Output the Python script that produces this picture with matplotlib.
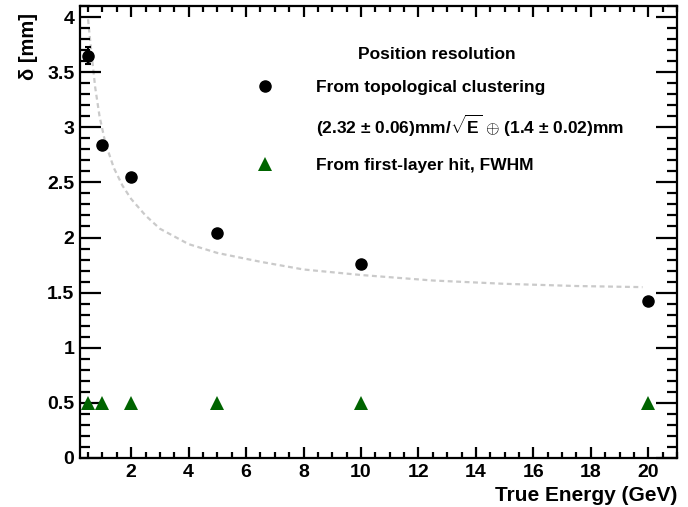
import matplotlib

matplotlib.use("Agg")
import matplotlib.pyplot as plt
from matplotlib.lines import Line2D
from matplotlib.ticker import MultipleLocator, FormatStrFormatter

plt.rcParams["font.family"] = ["Liberation Sans", "DejaVu Sans"]
plt.rcParams["font.weight"] = "bold"
plt.rcParams["mathtext.fontset"] = "custom"
plt.rcParams["mathtext.rm"] = "Liberation Sans:bold"
plt.rcParams["mathtext.bf"] = "Liberation Sans:bold"

# Position resolution from topological clustering
energy = [0.5, 1, 2, 5, 10, 20]
resolution = [3.65, 2.84, 2.55, 2.04, 1.76, 1.42]
resolution_err = [0.08, 0.02, 0.02, 0.02, 0.02, 0.02]

# First-layer hit, FWHM
hit_energy = [0.5, 1, 2, 5, 10, 20]
hit_resolution = [0.5, 0.5, 0.5, 0.5, 0.5, 0.5]

# Fit curve
fit_x = [0.5, 0.6, 0.75, 0.9, 1.1, 1.4, 1.7, 2.0, 2.5, 3.0, 4.0, 5.0,
         6.5, 8.0, 10.0, 12.5, 15.0, 17.5, 19.8]
fit_y = [3.98, 3.72, 3.36, 3.10, 2.86, 2.63, 2.47, 2.35, 2.20, 2.08, 1.94,
         1.86, 1.78, 1.71, 1.66, 1.61, 1.58, 1.56, 1.55]

fig = plt.figure(figsize=(6.88, 5.07), dpi=100)
ax = fig.add_axes([80 / 688, 1 - 458 / 507, 597 / 688, 452 / 507])

ax.plot(fit_x, fit_y, color="#cacaca", lw=1.6, ls=(0, (2.2, 1.6)), zorder=1)
ax.errorbar(energy, resolution, yerr=resolution_err, fmt="o", color="black",
            ms=8, elinewidth=1.5, capsize=2.5, capthick=1.5, zorder=3)
ax.plot(hit_energy, hit_resolution, "^", color="#006400", ms=10,
        markeredgewidth=0, zorder=3)

ax.set_xlim(0.22, 21.0)
ax.set_ylim(0, 4.1)

ax.xaxis.set_major_locator(MultipleLocator(2))
ax.xaxis.set_minor_locator(MultipleLocator(0.5))
ax.yaxis.set_major_locator(MultipleLocator(0.5))
ax.yaxis.set_minor_locator(MultipleLocator(0.1))
ax.yaxis.set_major_formatter(FormatStrFormatter("%g"))

ax.tick_params(axis="both", which="both", direction="in", top=True,
               right=True, width=1.6, labelsize=14)
ax.tick_params(axis="y", which="major", length=15, pad=4)
ax.tick_params(axis="y", which="minor", length=7.5)
ax.tick_params(axis="x", which="major", length=8, pad=4)
ax.tick_params(axis="x", which="minor", length=4)
for side in ax.spines.values():
    side.set_linewidth(1.6)

ax.set_xlabel("True Energy (GeV)", fontsize=15, fontweight="bold",
              loc="right", labelpad=4)
ax.set_ylabel("δ [mm]", fontsize=14.5, fontweight="bold", loc="top")
ax.yaxis.set_label_coords(-0.07, 0.985)

handles = [
    Line2D([], [], ls="none", marker="o", color="black", ms=8),
    Line2D([], [], ls="none"),
    Line2D([], [], ls="none", marker="^", color="#006400", ms=10,
           markeredgewidth=0),
]
labels = [
    "From topological clustering",
    r"(2.32 $\pm$ 0.06)mm/$\sqrt{\mathbf{E}}$ $\oplus$ (1.4 $\pm$ 0.02)mm",
    "From first-layer hit, FWHM",
]
leg = ax.legend(handles, labels, title="Position resolution",
                loc="upper left", bbox_to_anchor=(0.285, 0.91),
                frameon=False, fontsize=12.5, title_fontsize=12.5,
                handlelength=1.7, handletextpad=2.1, labelspacing=1.05,
                borderpad=0, borderaxespad=0)
leg.get_title().set_fontweight("bold")

fig.savefig("out.png", dpi=100)
